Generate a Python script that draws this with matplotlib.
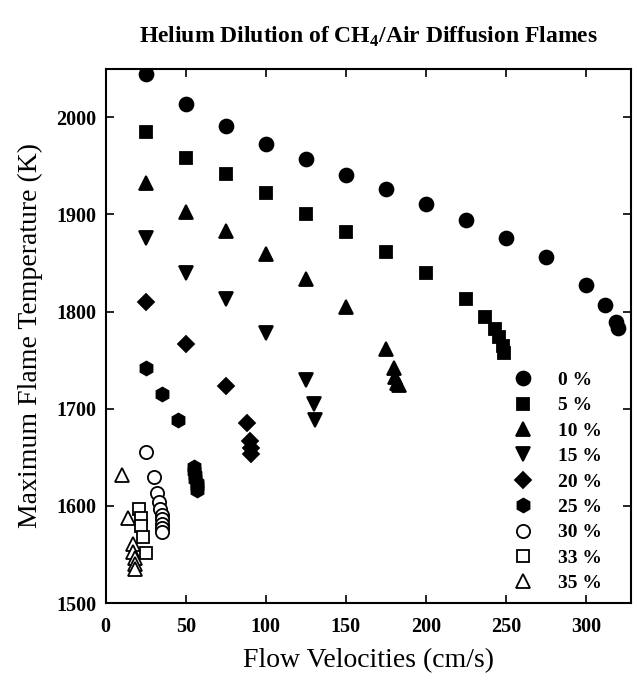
import matplotlib
matplotlib.use("Agg")
import matplotlib.pyplot as plt

# flow velocity (cm/s) and max flame temperature (K) for each helium dilution
x0 = [25, 50, 75, 100, 125, 150, 175, 200, 225, 250, 275, 300, 312, 319, 320]
t0 = [2045, 2014, 1991, 1973, 1957, 1941, 1926, 1911, 1894, 1876, 1856, 1827, 1807, 1789, 1783]

x5 = [25, 50, 75, 100, 125, 150, 175, 200, 225, 237, 243, 246, 248, 249]
t5 = [1985, 1958, 1942, 1922, 1901, 1882, 1861, 1840, 1813, 1794, 1782, 1774, 1765, 1757]

x10 = [25, 50, 75, 100, 125, 150, 175, 180, 181, 182, 183]
t10 = [1932, 1903, 1883, 1859, 1834, 1805, 1762, 1742, 1733, 1727, 1724]

x15 = [25, 50, 75, 100, 125, 130, 131]
t15 = [1876, 1840, 1813, 1778, 1730, 1705, 1688]

x20 = [25, 50, 75, 88, 90, 91, 91]
t20 = [1810, 1767, 1723, 1685, 1667, 1660, 1653]

x25 = [25, 35, 45, 55, 55, 56, 56, 57, 57, 57]
t25 = [1742, 1715, 1688, 1640, 1636, 1632, 1628, 1624, 1620, 1616]

x30 = [25, 30, 32, 33, 34, 35, 35, 35, 35, 35]
t30 = [1655, 1630, 1613, 1604, 1597, 1591, 1586, 1581, 1577, 1573]

x33 = [21, 22, 22, 23, 25]
t33 = [1597, 1588, 1579, 1568, 1551]

x35 = [10, 14, 17, 17, 18, 18, 18]
t35 = [1632, 1588, 1561, 1553, 1546, 1540, 1535]

labels = ['0 %', '5 %', '10 %', '15 %', '20 %', '25 %', '30 %', '33 %', '35 %']

plt.rcParams['font.family'] = ['Liberation Serif', 'DejaVu Serif']
plt.rcParams['mathtext.fontset'] = 'custom'
plt.rcParams['mathtext.rm'] = 'Liberation Serif:bold'
plt.rcParams['mathtext.bf'] = 'Liberation Serif:bold'

fig = plt.figure(figsize=(6.37, 6.88), dpi=100)
ax = fig.add_axes([0.166, 0.1235, 0.824, 0.7765])

series = [(x0, t0), (x5, t5), (x10, t10), (x15, t15), (x20, t20),
          (x25, t25), (x30, t30), (x33, t33), (x35, t35)]
markers = ['o', 's', '^', 'v', 'D', 'h', 'o', 's', '^']
sizes = [10, 8.5, 9.5, 9.5, 8, 10, 9.5, 9, 9.5]
filled = [True] * 6 + [False] * 3

for (xs, ts), m, ms, f, lab in zip(series, markers, sizes, filled, labels):
    ax.plot(xs, ts, ls='none', marker=m, ms=ms, mec='black', mew=1.3,
            mfc='black' if f else 'white', label=lab)

ax.set_xlim(0, 328)
ax.set_ylim(1500, 2050)
ax.set_xticks([0, 50, 100, 150, 200, 250, 300])
ax.set_yticks([1500, 1600, 1700, 1800, 1900, 2000])
ax.tick_params(direction='in', length=6, width=1.2, top=True, right=True,
               labelsize=14.5)
ax.tick_params(axis='x', pad=10)
ax.tick_params(axis='y', pad=7)
for lbl in ax.get_xticklabels() + ax.get_yticklabels():
    lbl.set_fontweight('bold')
for s in ax.spines.values():
    s.set_linewidth(1.5)

ax.set_xlabel('Flow Velocities (cm/s)', fontsize=20, labelpad=8)
ax.set_ylabel('Maximum Flame Temperature (K)', fontsize=20, labelpad=9)
ax.set_title('Helium Dilution of CH$_4$/Air Diffusion Flames', fontsize=17,
             fontweight='bold', pad=19)

leg = ax.legend(loc='lower right', bbox_to_anchor=(0.972, -0.005), frameon=False,
                numpoints=1, handlelength=1.0, handletextpad=1.3,
                labelspacing=0.4, borderaxespad=0.3,
                prop={'size': 14, 'weight': 'bold'})

fig.savefig('out.png', dpi=100)
